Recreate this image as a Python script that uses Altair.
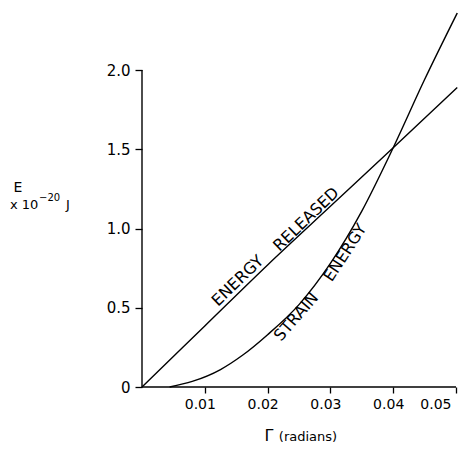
import altair as alt
import pandas as pd

# ---- data ----
released_x = [0.0, 0.01, 0.02, 0.03, 0.04, 0.0502]
released_y = [0.0, 0.385, 0.77, 1.14, 1.51, 1.89]

strain_x = [0.0044, 0.008, 0.0125, 0.016, 0.02, 0.025, 0.03, 0.035, 0.04, 0.045, 0.0502]
strain_y = [0.0, 0.035, 0.11, 0.20, 0.33, 0.52, 0.78, 1.11, 1.51, 1.94, 2.36]

x_ticks = [0.01, 0.02, 0.03, 0.04, 0.05]
y_ticks = [0.0, 0.5, 1.0, 1.5, 2.0]

label_text = ["ENERGY", "RELEASED", "STRAIN", "ENERGY"]
label_x = [0.01525, 0.02616, 0.02457, 0.03237]
label_y = [0.670, 1.058, 0.443, 0.847]
label_angle = [316, 316, 311, 303]

FONT = "DejaVu Sans"

df = pd.concat([
    pd.DataFrame({"x": released_x, "y": released_y, "s": "released", "o": range(len(released_x))}),
    pd.DataFrame({"x": strain_x, "y": strain_y, "s": "strain", "o": range(len(strain_x))}),
])
labels = pd.DataFrame({"t": label_text, "x": label_x, "y": label_y, "a": label_angle})

xs = alt.Scale(domain=[0, 0.05], nice=False, zero=False)
ys = alt.Scale(domain=[0, 2.36], nice=False, zero=False)

xaxis = alt.Axis(values=x_ticks, format=".2f", domain=False, grid=False, title=None,
                 tickColor="black", tickSize=6, tickWidth=1.3, labelFont=FONT, labelFontSize=14,
                 labelColor="black", labelPadding=4, labelOffset=-5)
yaxis = alt.Axis(values=y_ticks, labelExpr="datum.value == 0 ? '0' : format(datum.value, '.1f')",
                 domain=False, grid=False, title=None, tickColor="black", tickSize=7, tickWidth=1.3,
                 labelFont=FONT, labelFontSize=15, labelColor="black", labelPadding=5)

lines = alt.Chart(df).mark_line(color="black", strokeWidth=1.4, interpolate="monotone").encode(
    x=alt.X("x:Q", scale=xs, axis=xaxis),
    y=alt.Y("y:Q", scale=ys, axis=yaxis),
    detail="s:N",
    order="o:Q",
)

dummy = alt.Data(values=[{}])

yline = alt.Chart(dummy).mark_rule(color="black", strokeWidth=1.4).encode(
    x=alt.datum(0, scale=xs), y=alt.datum(0, scale=ys), y2=alt.datum(2.0)
)
xline = alt.Chart(dummy).mark_rule(color="black", strokeWidth=1.4).encode(
    y=alt.datum(0, scale=ys), x=alt.datum(0, scale=xs), x2=alt.datum(0.05)
)

curve_labels = alt.Chart(labels).mark_text(font=FONT, fontSize=16, color="black",
                                           align="center", baseline="middle").encode(
    x=alt.X("x:Q", scale=xs),
    y=alt.Y("y:Q", scale=ys),
    text="t:N",
    angle=alt.Angle("a:Q", scale=None),
)

def txt(s, x, y, size, align="left", baseline="alphabetic", weight="normal"):
    return alt.Chart(dummy).mark_text(text=s, font=FONT, fontSize=size, color="black",
                                      align=align, baseline=baseline, fontWeight=weight).encode(
        x=alt.value(x), y=alt.value(y))

ytitle = (txt("E", -124, 175, 14, align="center", baseline="middle")
          + txt("x 10", -132, 196, 13)
          + txt("\u221220", -103, 188, 10)
          + txt("J", -76, 196, 13))
xtitle = (txt("\u0393", 127, 428, 16, align="center")
          + txt("(radians)", 166, 428, 13, align="center"))

chart = alt.layer(lines, yline, xline, curve_labels, ytitle, xtitle).properties(
    width=314, height=374,
    autosize=alt.AutoSizeParams(type="none"),
    padding={"left": 134, "top": 5, "right": 10, "bottom": 57},
).configure(background="white").configure_view(stroke=None)

chart.save("out.html", embed_options={"renderer": "svg", "actions": False})
